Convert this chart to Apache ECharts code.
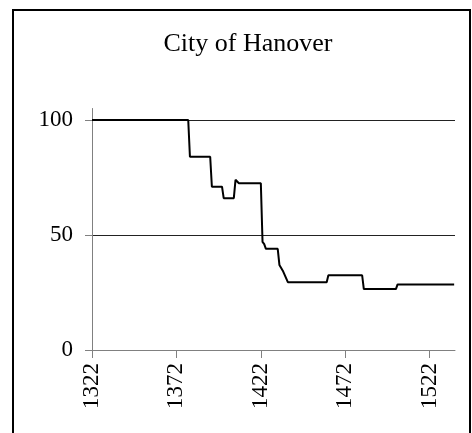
<!DOCTYPE html>
<html>
<head>
<meta charset="utf-8">
<script src="https://cdn.jsdelivr.net/npm/echarts@6/dist/echarts.min.js"></script>
<style>
  html, body { margin: 0; padding: 0; background: #fff; }
  #chartmain { width: 472px; height: 433px; }
</style>
</head>
<body>
<div id="chartmain"></div>
<script>
// 标题与刻度
var chartTitle = 'City of Hanover';
var yearTicks = [1322, 1372, 1422, 1472, 1522];
var valueTicks = [0, 50, 100];

// 折线拐点 [年份, 数值]
var hanover = [
    [1322, 100], [1379, 100], [1380, 84], [1392, 84], [1393, 71],
    [1399, 71], [1400, 66], [1406, 66], [1407, 74], [1408, 74],
    [1409, 72.5], [1422, 72.5], [1423, 47], [1424, 46], [1425, 44],
    [1432, 44], [1433, 37], [1434, 37], [1435, 34.5], [1436, 34.5],
    [1438, 29.5], [1461, 29.5], [1462, 32.5], [1482, 32.5], [1483, 26.5],
    [1502, 26.5], [1503, 28.5], [1536.5, 28.5]
];

window.onload = function () {
    var serif = 'Liberation Serif, Times New Roman, serif';
    var option = {
        animation: false,
        title: {
            text: chartTitle,
            left: 243,
            top: 26,
            textAlign: 'center',
            textStyle: { fontFamily: serif, fontSize: 26, fontWeight: 'normal', color: '#000' }
        },
        graphic: [{
            type: 'rect',
            shape: { x: 13, y: 10, width: 457, height: 440 },
            style: { fill: 'none', stroke: '#000', lineWidth: 2 }
        }],
        grid: { left: 92, right: 17, top: 108.5, bottom: 83 },
        xAxis: {
            type: 'value',
            min: 1322,
            max: 1537,
            axisLine: { show: true, lineStyle: { color: '#808080', width: 1 } },
            axisTick: { show: true, length: 8, customValues: yearTicks, lineStyle: { color: '#808080' } },
            axisLabel: {
                customValues: yearTicks,
                formatter: function (v) { return String(v); },
                rotate: 90,
                margin: 13,
                fontFamily: serif,
                fontSize: 23,
                color: '#000'
            },
            splitLine: { show: false }
        },
        yAxis: {
            type: 'value',
            min: 0,
            max: 105,
            axisLine: { show: true, lineStyle: { color: '#808080', width: 1 } },
            axisTick: { show: true, length: 7, customValues: valueTicks, lineStyle: { color: '#808080' } },
            axisLabel: {
                customValues: valueTicks,
                margin: 19,
                fontFamily: serif,
                fontSize: 23,
                color: '#000'
            },
            splitLine: { show: true, lineStyle: { color: '#222', width: 1 } }
        },
        series: [{
            type: 'line',
            data: hanover,
            symbol: 'none',
            lineStyle: { color: '#000', width: 2 }
        }]
    };
    var myChart = echarts.init(document.getElementById('chartmain'));
    myChart.setOption(option);
};
</script>
</body>
</html>
